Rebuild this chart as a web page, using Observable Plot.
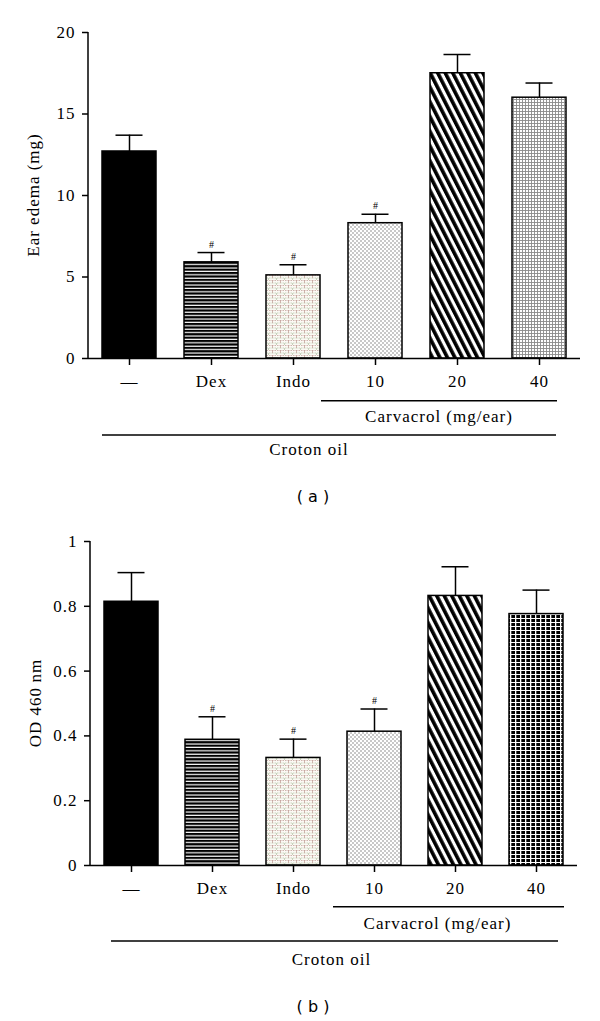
<!DOCTYPE html>
<html><head><meta charset="utf-8">
<script src="https://cdn.jsdelivr.net/npm/d3@7"></script>
<script src="https://cdn.jsdelivr.net/npm/@observablehq/plot@0.6"></script>
<style>
body{margin:0;background:#fff;}
#root{position:relative;width:600px;height:1021px;overflow:hidden;}
.cap{position:absolute;left:263px;width:100px;text-align:center;font-family:"DejaVu Sans",sans-serif;font-size:16px;line-height:20px;color:#000;}
#root svg text{font-family:"Liberation Serif",serif !important;font-size:17px !important;letter-spacing:1px;font-weight:normal;fill:#000;}
#root svg g[aria-label="text"] text{font-size:10px !important;letter-spacing:0;}
g[aria-label$="tick"]{stroke-width:1.5;}
</style></head><body><div id="root"></div>
<script>
// ---- data ----
const groups = ["\u2014", "Dex", "Indo", "10", "20", "40"];
const edemaMean = [12.7, 5.9, 5.1, 8.3, 17.5, 16.0];
const edemaSem  = [1.0, 0.6, 0.65, 0.55, 1.15, 0.9];
const odMean = [0.814, 0.388, 0.332, 0.413, 0.832, 0.776];
const odSem  = [0.09, 0.071, 0.058, 0.07, 0.09, 0.074];
const significant = [false, true, true, true, false, false];
const edemaTicks = [0, 5, 10, 15, 20];
const odTicks = [0, 0.2, 0.4, 0.6, 0.8, 1];
const subgroupLabel = "Carvacrol (mg/ear)";
const groupLabel = "Croton oil";
const yLabelA = "Ear edema (mg)";
const yLabelB = "OD 460\u2009nm";

// ---- rendering ----
const root = document.getElementById("root");
const fillKeys = ["solid", "dex", "indo", "d10", "d20", "d40"];

function addPatterns(svg, prefix, gridDark) {
  const defs = svg.insert("defs", ":first-child");
  const pat = (id, w, h, tf) => {
    const p = defs.append("pattern").attr("id", prefix + id)
      .attr("patternUnits", "userSpaceOnUse").attr("width", w).attr("height", h);
    if (tf) p.attr("patternTransform", tf);
    return p;
  };
  let p = pat("dex", 6, 3.4);
  p.append("rect").attr("width", 6).attr("height", 3.4).attr("fill", "#fff");
  p.append("rect").attr("width", 6).attr("height", 2.2).attr("fill", "#000");

  p = pat("indo", 8, 5);
  p.append("rect").attr("width", 8).attr("height", 5).attr("fill", "#fbf9f4");
  p.append("line").attr("x1", 0).attr("x2", 8).attr("y1", 0.5).attr("y2", 0.5).attr("stroke", "#c4a29c").attr("stroke-width", 0.8).attr("stroke-dasharray", "1.5,1");
  p.append("line").attr("x1", 0).attr("x2", 8).attr("y1", 3).attr("y2", 3).attr("stroke", "#b9c8ad").attr("stroke-width", 0.8).attr("stroke-dasharray", "1.5,1");
  p.append("line").attr("x1", 0.5).attr("x2", 0.5).attr("y1", 0).attr("y2", 3).attr("stroke", "#c4a29c").attr("stroke-width", 0.8);
  p.append("line").attr("x1", 4.5).attr("x2", 4.5).attr("y1", 3).attr("y2", 5).attr("stroke", "#b9c8ad").attr("stroke-width", 0.8);

  p = pat("d10", 4, 4);
  p.append("rect").attr("width", 4).attr("height", 4).attr("fill", "#fff");
  p.append("circle").attr("cx", 1).attr("cy", 1).attr("r", 0.75).attr("fill", "#777");
  p.append("circle").attr("cx", 3).attr("cy", 3).attr("r", 0.75).attr("fill", "#777");

  p = pat("d20", 6.7, 10, "rotate(-27)");
  p.append("rect").attr("width", 6.7).attr("height", 10).attr("fill", "#fff");
  p.append("rect").attr("width", 3.6).attr("height", 10).attr("fill", "#000");

  if (gridDark) {
    p = pat("d40", 5, 4);
    p.append("rect").attr("width", 5).attr("height", 4).attr("fill", "#000");
    p.append("rect").attr("width", 1.3).attr("height", 4).attr("fill", "#fff");
    p.append("rect").attr("width", 5).attr("height", 1).attr("fill", "#fff");
  } else {
    p = pat("d40", 3, 3);
    p.append("rect").attr("width", 3).attr("height", 3).attr("fill", "#fff");
    p.append("rect").attr("width", 3).attr("height", 0.9).attr("fill", "#8a8a8a");
    p.append("rect").attr("width", 0.9).attr("height", 3).attr("fill", "#8a8a8a");
  }
}

function panel(cfg) {
  const rows = groups.map((g, i) => ({
    group: g, mean: cfg.mean[i], sem: cfg.sem[i], sig: significant[i],
    fill: fillKeys[i] === "solid" ? "#000" : `url(#${cfg.prefix}${fillKeys[i]})`
  }));
  const plot = Plot.plot({
    width: 600, height: cfg.height,
    marginTop: cfg.marginTop, marginBottom: cfg.marginBottom,
    marginLeft: cfg.marginLeft, marginRight: cfg.marginRight,
    style: {fontFamily: "'Liberation Serif', serif", fontSize: "17px", color: "#000", background: "#fff"},
    x: {domain: groups, paddingInner: cfg.padIn, paddingOuter: cfg.padOut, tickSize: 7, tickPadding: 9, label: null},
    y: {domain: [0, cfg.ticks[cfg.ticks.length - 1]], ticks: cfg.ticks, tickFormat: "~g", tickSize: 6, tickPadding: 7, label: null},
    color: {type: "identity"},
    marks: [
      Plot.barY(rows, {x: "group", y: "mean", fill: "fill", stroke: "#000", strokeWidth: 1.5}),
      Plot.ruleX(rows, {x: "group", y1: "mean", y2: d => d.mean + d.sem, stroke: "#000", strokeWidth: 1.5}),
      Plot.tickY(rows, {x: "group", y: d => d.mean + d.sem, insetLeft: 13.5, insetRight: 13.5, stroke: "#000", strokeWidth: 1.5}),
      Plot.text(rows.filter(d => d.sig), {x: "group", y: d => d.mean + d.sem, text: () => "#", dy: -8, fontSize: 10}),
      Plot.ruleY([0], {stroke: "#000", strokeWidth: 1.5})
    ]
  });
  const svg = d3.select(plot);
  addPatterns(svg, cfg.prefix, cfg.gridDark);
  const sx = plot.scale("x"), sy = plot.scale("y");
  const bw = sx.bandwidth;
  const y0 = sy.apply(0), yTop = sy.apply(cfg.ticks[cfg.ticks.length - 1]);
  const xs = g => sx.apply(g);
  const g = svg.append("g").attr("stroke", "#000").attr("stroke-width", 1.5);
  // y-axis line
  g.append("line").attr("x1", cfg.marginLeft).attr("x2", cfg.marginLeft).attr("y1", y0).attr("y2", yTop);
  // group brackets
  const c1 = xs(groups[2]) + bw + cfg.carvL, c2 = xs(groups[5]) + bw + cfg.carvR;
  g.append("line").attr("x1", c1).attr("x2", c2).attr("y1", y0 + cfg.carvLine).attr("y2", y0 + cfg.carvLine);
  const k1 = xs(groups[0]) + cfg.croL, k2 = xs(groups[5]) + bw + cfg.croR;
  g.append("line").attr("x1", k1).attr("x2", k2).attr("y1", y0 + cfg.croLine).attr("y2", y0 + cfg.croLine);
  const t = svg.append("g").attr("text-anchor", "middle").attr("fill", "#000").attr("dominant-baseline", "central");
  t.append("text").attr("x", (c1 + c2) / 2 + cfg.carvDx).attr("y", y0 + cfg.carvText).text(subgroupLabel);
  t.append("text").attr("x", (k1 + k2) / 2 + cfg.croDx).attr("y", y0 + cfg.croText).text(groupLabel);
  t.append("text").attr("transform", `translate(${cfg.marginLeft - 55},${(y0 + yTop) / 2}) rotate(-90)`).text(cfg.ylabel);
  plot.style.position = "absolute";
  plot.style.left = "0px";
  plot.style.top = cfg.top + "px";
  root.appendChild(plot);
  const cap = document.createElement("div");
  cap.className = "cap";
  cap.style.top = cfg.capTop + "px";
  cap.textContent = cfg.caption;
  root.appendChild(cap);
}

panel({prefix: "a-", mean: edemaMean, sem: edemaSem, ticks: edemaTicks, ylabel: yLabelA, gridDark: false,
  top: 0, height: 470, marginTop: 32, marginBottom: 112, marginLeft: 88, marginRight: 20,
  padIn: 0.34, padOut: 0.17,
  carvL: 1, carvR: -9, carvLine: 42.7, carvText: 58, carvDx: 0,
  croL: 0, croR: -10, croLine: 77, croText: 91, croDx: -20,
  capTop: 487, caption: "( a )"});

panel({prefix: "b-", mean: odMean, sem: odSem, ticks: odTicks, ylabel: yLabelB, gridDark: true,
  top: 510, height: 470, marginTop: 31, marginBottom: 115, marginLeft: 90, marginRight: 23,
  padIn: 0.333, padOut: 0.16,
  carvL: 13, carvR: 1, carvLine: 41.7, carvText: 58, carvDx: -11,
  croL: 7, croR: -5, croLine: 76, croText: 94, croDx: -3,
  capTop: 997, caption: "( b )"});
</script>
</body></html>
